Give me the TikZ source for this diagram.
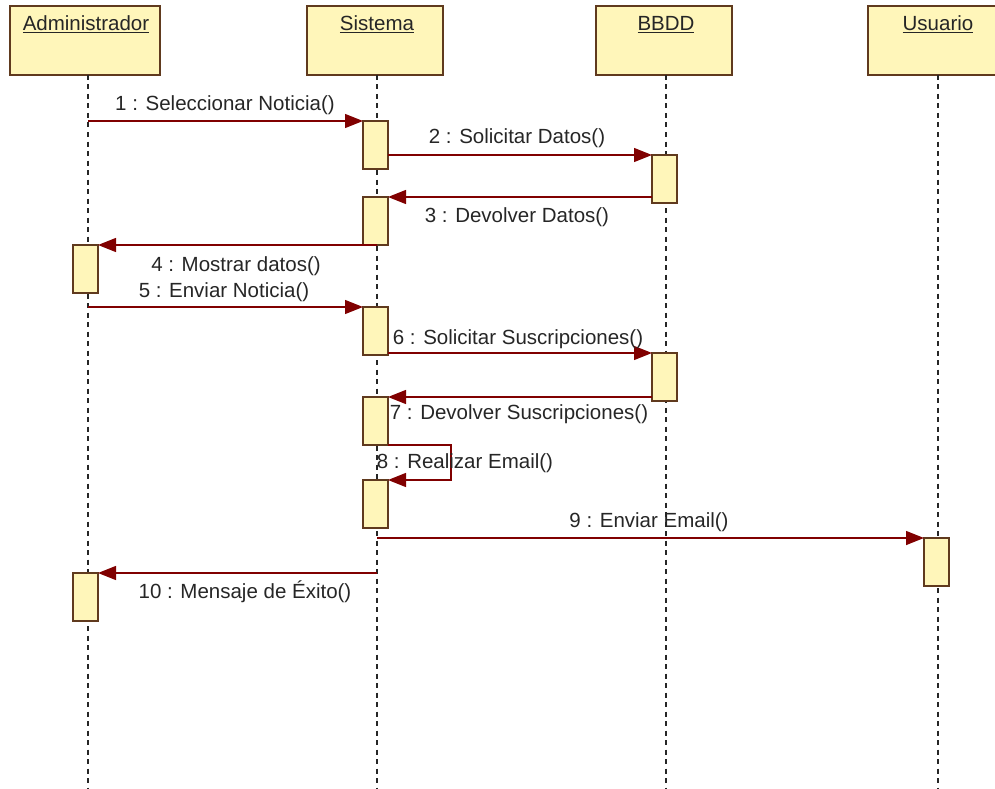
\documentclass[tikz,border=0pt]{standalone}
\usepackage{fontspec}
\setmainfont{Liberation Sans}
\usetikzlibrary{arrows.meta}
\definecolor{boxfill}{RGB}{255,246,186}
\definecolor{boxline}{RGB}{96,58,30}
\definecolor{msgred}{RGB}{128,0,0}
\tikzset{
  hdr/.style={draw=boxline, line width=1.6pt, fill=boxfill, minimum height=69pt, anchor=north west, inner sep=0pt, outer sep=0pt},
  act/.style={draw=boxline, line width=1.4pt, fill=boxfill, minimum width=25pt, minimum height=48pt, anchor=north west, inner sep=0pt, outer sep=0pt},
  life/.style={black!85, line width=1.6pt, dash pattern=on 5pt off 4.5pt},
  msg/.style={msgred, line width=1.4pt, -{Triangle[length=18pt,width=14pt]}},
  lbl/.style={font=\fontsize{20.5}{24}\selectfont, text=black!85, inner sep=0pt},
  hlbl/.style={font=\fontsize{20.5}{24}\selectfont, text=black!85, inner sep=0pt, anchor=base}
}
\begin{document}
\begin{tikzpicture}[x=1pt,y=-1pt]
\useasboundingbox (0,0) rectangle (995,789);
% headers
\node[hdr, minimum width=150pt] (hA) at (10,6) {};
\node[hdr, minimum width=136pt] (hS) at (307,6) {};
\node[hdr, minimum width=136pt] (hB) at (596,6) {};
\node[hdr, minimum width=140pt] (hU) at (868,6) {};
\node[hlbl] (tA) at (86,31) {\underline{\smash{Administrador}}};
\node[hlbl] (tS) at (377,31) {\underline{\smash{Sistema}}};
\node[hlbl] (tB) at (666,31) {\underline{\smash{BBDD}}};
\node[hlbl] (tU) at (938,31) {\underline{\smash{Usuario}}};
% lifelines
\coordinate (eA) at (88,789);
\coordinate (eS) at (377,789);
\coordinate (eB) at (666,789);
\coordinate (eU) at (938,789);
\draw[life] (88,75) -- (eA);
\draw[life] (377,75) -- (eS);
\draw[life] (666,75) -- (eB);
\draw[life] (938,75) -- (eU);
% activations
\node[act] (s1) at (363,121) {};
\node[act] (b1) at (652,155) {};
\node[act] (s2) at (363,197) {};
\node[act] (ad1) at (73,245) {};
\node[act] (s3) at (363,307) {};
\node[act] (b2) at (652,353) {};
\node[act] (s4) at (363,397) {};
\node[act] (s5) at (363,480) {};
\node[act] (u1) at (924,538) {};
\node[act] (ad2) at (73,573) {};
% messages
\coordinate (m1) at (88,121);
\draw[msg] (m1) -- (s1.north west);
\node[lbl] (l1) at (225,105) {1 : Seleccionar Noticia()};
\draw[msg] (s1.east |- b1.north) -- (b1.north west);
\node[lbl] (l2) at (517,138) {2 : Solicitar Datos()};
\draw[msg] (b1.west |- s2.north) -- (s2.north east);
\node[lbl] (l3) at (517,217) {3 : Devolver Datos()};
\draw[msg] (s2.south -| eS) -- (ad1.north east);
\node[lbl] (l4) at (236,266) {4 : Mostrar datos()};
\coordinate (m5) at (88,307);
\draw[msg] (m5) -- (s3.north west);
\node[lbl] (l5) at (224,292) {5 : Enviar Noticia()};
\draw[msg] (s3.east |- b2.north) -- (b2.north west);
\node[lbl] (l6) at (518,339) {6 : Solicitar Suscripciones()};
\draw[msg] (b2.west |- s4.north) -- (s4.north east);
\node[lbl] (l7) at (519,414) {7 : Devolver Suscripciones()};
\draw[msg] (s4.south east) -- ++(63,0) |- (s5.north east);
\node[lbl] (l8) at (465,463) {8 : Realizar Email()};
\coordinate (m9) at (377,538);
\draw[msg] (m9) -- (u1.north west);
\node[lbl] (l9) at (649,522) {9 : Enviar Email()};
\coordinate (m10) at (377,573);
\draw[msg] (m10) -- (ad2.north east);
\node[lbl] (l10) at (245,592) {10 : Mensaje de Éxito()};
\end{tikzpicture}
\end{document}
